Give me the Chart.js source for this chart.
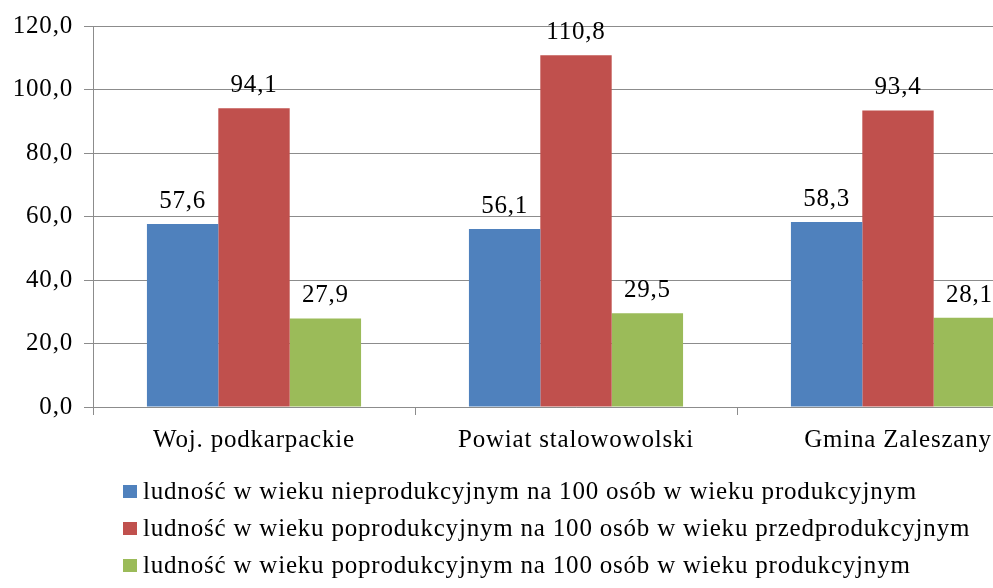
<!DOCTYPE html>
<html>
<head>
<meta charset="utf-8">
<script src="https://cdn.jsdelivr.net/npm/chart.js@4/dist/chart.umd.min.js"></script>
<style>
  html, body { margin: 0; padding: 0; background: #fff; overflow: hidden; }
  #wrap { width: 1070px; height: 588px; position: relative; }
</style>
</head>
<body>
<div id="wrap"><canvas id="ChartLudnosc"></canvas></div>
<script>
const categories = ['Woj. podkarpackie', 'Powiat stalowowolski', 'Gmina Zaleszany'];
const seriesNames = [
  'ludność w wieku nieprodukcyjnym na 100 osób w wieku produkcyjnym',
  'ludność w wieku poprodukcyjnym na 100 osób w wieku przedprodukcyjnym',
  'ludność w wieku poprodukcyjnym na 100 osób w wieku produkcyjnym'
];
const nieprodukcyjna = [57.6, 56.1, 58.3];
const poprzedprod = [94.1, 110.8, 93.4];
const poprodukcyjna = [27.9, 29.5, 28.1];
const colors = ['#4F81BD', '#C0504D', '#9BBB59'];

const FONT = 'Liberation Serif';
const fmt = v => v.toFixed(1).replace('.', ',');

// trochę szerszy odstęp liter, jak w oryginale
const spacing = {
  id: 'spacing',
  beforeUpdate(chart) { chart.ctx.letterSpacing = '0.8px'; },
  beforeDraw(chart) { chart.ctx.letterSpacing = '0.8px'; }
};

// etykiety nad słupkami
const valueLabels = {
  id: 'valueLabels',
  afterDatasetsDraw(chart) {
    const ctx = chart.ctx;
    ctx.save();
    ctx.font = '25px "' + FONT + '"';
    ctx.fillStyle = '#000';
    ctx.textAlign = 'center';
    ctx.textBaseline = 'alphabetic';
    chart.data.datasets.forEach((ds, i) => {
      chart.getDatasetMeta(i).data.forEach((bar, j) => {
        ctx.fillText(fmt(ds.data[j]), bar.x, bar.y - 16);
      });
    });
    ctx.restore();
  }
};

// legenda pod wykresem, wyrównana do lewej
const leftLegend = {
  id: 'leftLegend',
  afterDraw(chart) {
    const ctx = chart.ctx;
    ctx.save();
    ctx.font = '25px "' + FONT + '"';
    ctx.textBaseline = 'middle';
    ctx.textAlign = 'left';
    chart.data.datasets.forEach((ds, i) => {
      const y = 491 + i * 37;
      ctx.fillStyle = ds.backgroundColor;
      ctx.fillRect(123, y - 6, 14, 13);
      ctx.fillStyle = '#000';
      ctx.fillText(ds.label, 143, y + 1);
    });
    ctx.restore();
  }
};

const ctx = document.getElementById('ChartLudnosc').getContext('2d');
const chart = new Chart(ctx, {
  type: 'bar',
  data: {
    labels: categories,
    datasets: [
      { label: seriesNames[0], data: nieprodukcyjna, backgroundColor: colors[0] },
      { label: seriesNames[1], data: poprzedprod, backgroundColor: colors[1] },
      { label: seriesNames[2], data: poprodukcyjna, backgroundColor: colors[2] }
    ]
  },
  options: {
    responsive: true,
    maintainAspectRatio: false,
    animation: false,
    datasets: { bar: { barPercentage: 1, categoryPercentage: 0.665 } },
    layout: { padding: { top: 25, right: 11, bottom: 123, left: 0 } },
    plugins: { legend: { display: false }, tooltip: { enabled: false } },
    scales: {
      x: {
        grid: { drawOnChartArea: false, drawTicks: true, tickLength: 8, color: '#8c8c8c', offset: true },
        border: { color: '#8c8c8c' },
        ticks: { color: '#000', font: { family: FONT, size: 25 }, padding: 10 }
      },
      y: {
        min: 0, max: 120,
        afterFit(scale) { scale.width = 93; },
        grid: { color: '#8c8c8c', tickLength: 9 },
        border: { color: '#8c8c8c' },
        ticks: { stepSize: 20, color: '#000', font: { family: FONT, size: 25 }, padding: 11, callback: v => fmt(v) }
      }
    }
  },
  plugins: [spacing, valueLabels, leftLegend]
});
</script>
</body>
</html>
